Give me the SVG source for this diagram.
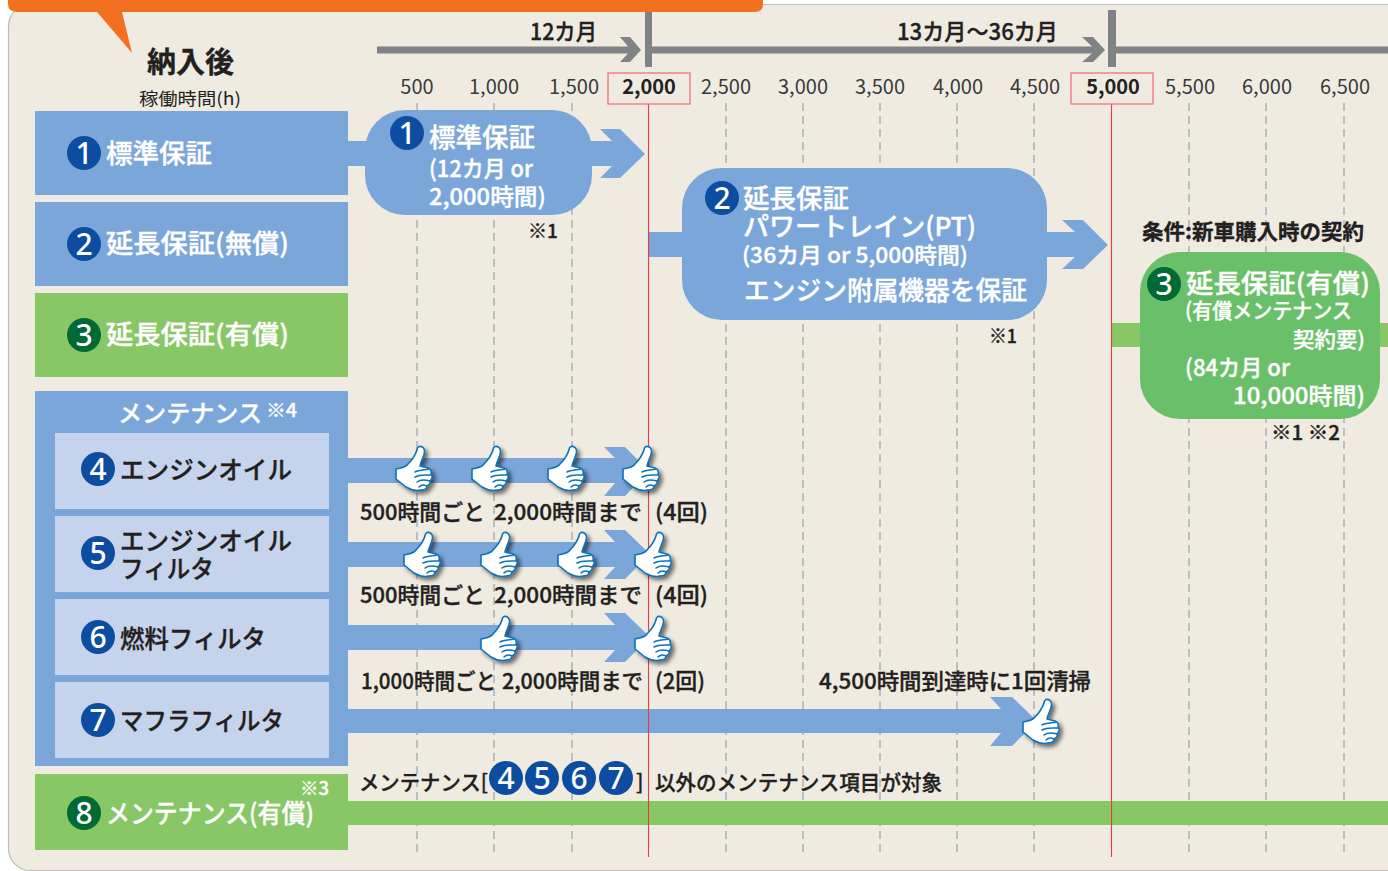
<svg xmlns="http://www.w3.org/2000/svg" xmlns:xlink="http://www.w3.org/1999/xlink" width="1388" height="871" viewBox="0 0 1388 871">
<style>
text{font-family:"Noto Sans CJK JP","Noto Sans",sans-serif;font-weight:500;fill:#231f20;stroke:#231f20;stroke-width:.35}
text.w{fill:#fff;stroke:#fff}
.b{font-weight:700}
text.n{fill:#fff;stroke:none;font-family:"Noto Sans","Liberation Sans",sans-serif;text-anchor:middle;font-weight:500}
.blue{fill:#7ba6d9}
.green{fill:#88c766}
.lt{fill:#c5d3ec}
.cb{fill:#0c4da2}
.cg{fill:#006934}
.gray{fill:#808285}
.dash{stroke:#bdbdc2;stroke-width:2;stroke-dasharray:8 5;fill:none}
.red{stroke:#ea3a42;stroke-width:1.1;fill:none}
.rbox{fill:none;stroke:#ee6a6f;stroke-width:1.2}
text.ax{font-size:20px;text-anchor:middle;fill:#3a3a3a;stroke:none;font-weight:400}
text.ax.b{fill:#222;font-weight:700}
text.thin{stroke:none;font-weight:400}
</style>
<defs>
<filter id="sh" x="-30%" y="-30%" width="170%" height="170%"><feDropShadow dx="3" dy="3" stdDeviation="2" flood-color="#000" flood-opacity=".55"/></filter>
<g id="thumb" filter="url(#sh)">
<path d="M24 .5C27 0 30 2 29.5 6C29 11 26 15 25 20L33 22C36 23 37 26 36 28C38 30 37 33 35 35C36 37 34 39 32 40C32 43 29 44 26 44C22 45 16 44 11 41L1 33V23C6 22 10 22 13 18C17 14 20 10 22 4C22 2 23 1 24 .5Z" fill="#fff" stroke="#0b72b9" stroke-width="1.6" stroke-linejoin="round"/>
<path d="M20 26C24 24 30 24 34 23M20 31C25 28 31 29 36 29M22 36C26 33 31 34 35 35M24 41C27 38 30 39 32 40" fill="none" stroke="#0b72b9" stroke-width="1.5" stroke-linecap="round"/>
</g>
</defs>

<rect x="8.5" y="4.5" width="1420" height="866" rx="22" fill="#f0ebe1" stroke="#bcbcbc" stroke-width="1.2"/>

<g id="header-tab">
<path d="M8 -8H763V4Q763 12 755 12H122L132 53L97 12H18Q8 12 8 4Z" fill="#f47021"/>
</g>

<g id="connectors">
<g class="dash">
<path d="M417 103V855M494 103V855M572 103V855M726 103V855M803 103V855M880 103V855M957 103V855M1034 103V855M1189 103V855M1266 103V855M1344 103V855"/>
</g>
<path class="gray" d="M377 46.5H628L620 37H630L641 50L630 62H620L628 53.5H377Z"/>
<path class="gray" d="M652 46.5H1092L1082 37H1093L1105 50L1093 62H1082L1092 53.5H652Z"/>
<path class="gray" d="M1116 46.5H1388V53.5H1116Z"/>
<rect class="gray" x="645" y="12" width="7" height="55"/>
<rect class="gray" x="1108" y="10" width="8" height="57"/>
<path class="blue" d="M348 141H612L600 129H620L645 154L620 178H600L612 166H348Z"/>
<path class="blue" d="M649 232H1075L1062 220H1083L1108 245L1083 269H1062L1075 257H649Z"/>
<rect class="green" x="1112" y="323" width="276" height="24"/>
<path class="blue" d="M348 458H615L604 447H625L649 471L625 496H604L615 483H348Z"/>
<path class="blue" d="M348 542H615L604 530H625L650 554L625 579H604L615 567H348Z"/>
<path class="blue" d="M348 625H615L604 613H625L650 637L625 662H604L615 650H348Z"/>
<path class="blue" d="M348 709H1001L990 697H1012L1037 721L1012 746H990L1001 733H348Z"/>
<rect class="green" x="348" y="801" width="1040" height="24"/>
<path class="red" d="M648.5 104V857M1111.5 104V857"/>
</g>

<g id="axis">
<text x="530" y="40" font-size="23" textLength="67" lengthAdjust="spacingAndGlyphs">12カ月</text>
<text x="897" y="40" font-size="23" textLength="161" lengthAdjust="spacingAndGlyphs">13カ月〜36カ月</text>
<text class="ax" x="417" y="94">500</text>
<text class="ax" x="494" y="94">1,000</text>
<text class="ax" x="574" y="94">1,500</text>
<rect class="rbox" x="608" y="73" width="82" height="31"/>
<text class="ax b" x="649" y="94">2,000</text>
<text class="ax" x="726" y="94">2,500</text>
<text class="ax" x="803" y="94">3,000</text>
<text class="ax" x="880" y="94">3,500</text>
<text class="ax" x="958" y="94">4,000</text>
<text class="ax" x="1035" y="94">4,500</text>
<rect class="rbox" x="1071" y="73" width="82" height="31"/>
<text class="ax b" x="1113" y="94">5,000</text>
<text class="ax" x="1190" y="94">5,500</text>
<text class="ax" x="1267" y="94">6,000</text>
<text class="ax" x="1345" y="94">6,500</text>
</g>

<g id="title">
<text class="b" x="147" y="73" font-size="29" textLength="87" lengthAdjust="spacingAndGlyphs">納入後</text>
<text class="thin" x="139" y="105" font-size="17" textLength="102" lengthAdjust="spacingAndGlyphs">稼働時間(h)</text>
</g>

<g id="label-1">
<rect class="blue" x="35" y="111" width="313" height="84"/>
<circle class="cb" cx="84" cy="153" r="17"/><text class="n" x="84" y="164" font-size="30">1</text>
<text class="w" x="106" y="163" font-size="26" textLength="106" lengthAdjust="spacingAndGlyphs">標準保証</text>
</g>
<g id="label-2">
<rect class="blue" x="35" y="202" width="313" height="84"/>
<circle class="cb" cx="84" cy="244" r="17"/><text class="n" x="84" y="255" font-size="30">2</text>
<text class="w" x="106" y="253" font-size="26" textLength="183" lengthAdjust="spacingAndGlyphs">延長保証(無償)</text>
</g>
<g id="label-3">
<rect class="green" x="35" y="293" width="313" height="84"/>
<circle class="cg" cx="84" cy="335" r="17"/><text class="n" x="84" y="346" font-size="30">3</text>
<text class="w" x="106" y="344" font-size="26" textLength="183" lengthAdjust="spacingAndGlyphs">延長保証(有償)</text>
</g>
<g id="label-maintenance">
<rect class="blue" x="35" y="391" width="313" height="375"/>
<text class="w" x="118" y="422" font-size="24" textLength="144" lengthAdjust="spacingAndGlyphs">メンテナンス</text>
<text class="w" x="266" y="417" font-size="18" textLength="31" lengthAdjust="spacingAndGlyphs">※4</text>
</g>
<g id="label-4">
<rect class="lt" x="55" y="433" width="274" height="76"/>
<circle class="cb" cx="98" cy="469" r="17"/><text class="n" x="98" y="480" font-size="30">4</text>
<text x="120" y="479" font-size="25" textLength="172" lengthAdjust="spacingAndGlyphs">エンジンオイル</text>
</g>
<g id="label-5">
<rect class="lt" x="55" y="516" width="274" height="76"/>
<circle class="cb" cx="98" cy="553" r="17"/><text class="n" x="98" y="564" font-size="30">5</text>
<text x="120" y="550" font-size="25" textLength="172" lengthAdjust="spacingAndGlyphs">エンジンオイル</text>
<text x="120" y="578" font-size="25" textLength="94" lengthAdjust="spacingAndGlyphs">フィルタ</text>
</g>
<g id="label-6">
<rect class="lt" x="55" y="599" width="274" height="76"/>
<circle class="cb" cx="98" cy="637" r="17"/><text class="n" x="98" y="648" font-size="30">6</text>
<text x="120" y="648" font-size="25" textLength="146" lengthAdjust="spacingAndGlyphs">燃料フィルタ</text>
</g>
<g id="label-7">
<rect class="lt" x="55" y="682" width="274" height="76"/>
<circle class="cb" cx="98" cy="720" r="17"/><text class="n" x="98" y="731" font-size="30">7</text>
<text x="120" y="730" font-size="25" textLength="164" lengthAdjust="spacingAndGlyphs">マフラフィルタ</text>
</g>
<g id="label-8">
<rect class="green" x="35" y="774" width="313" height="76"/>
<circle class="cg" cx="84" cy="813" r="17"/><text class="n" x="84" y="824" font-size="30">8</text>
<text class="w" x="106" y="823" font-size="26" textLength="208" lengthAdjust="spacingAndGlyphs">メンテナンス(有償)</text>
<text class="w" x="300" y="795" font-size="18" textLength="29" lengthAdjust="spacingAndGlyphs">※3</text>
</g>

<g id="bubble-1">
<rect class="blue" x="365" y="110" width="227" height="105" rx="40"/>
<circle class="cb" cx="407" cy="133" r="17"/><text class="n" x="407" y="144" font-size="30">1</text>
<text class="w" x="429" y="147" font-size="26" textLength="106" lengthAdjust="spacingAndGlyphs">標準保証</text>
<text class="w" x="429" y="177" font-size="23" textLength="104" lengthAdjust="spacingAndGlyphs">(12カ月 or</text>
<text class="w" x="429" y="205" font-size="23" textLength="117" lengthAdjust="spacingAndGlyphs">2,000時間)</text>
<text x="528" y="238" font-size="19" textLength="30" lengthAdjust="spacingAndGlyphs">※1</text>
</g>

<g id="bubble-2">
<rect class="blue" x="682" y="168" width="365" height="152" rx="40"/>
<circle class="cb" cx="722" cy="198" r="17"/><text class="n" x="722" y="209" font-size="30">2</text>
<text class="w" x="743" y="208" font-size="26" textLength="106" lengthAdjust="spacingAndGlyphs">延長保証</text>
<text class="w" x="743" y="236" font-size="26" textLength="233" lengthAdjust="spacingAndGlyphs">パワートレイン(PT)</text>
<text class="w" x="742" y="263" font-size="22" textLength="226" lengthAdjust="spacingAndGlyphs">(36カ月 or 5,000時間)</text>
<text class="w" x="744" y="300" font-size="26" textLength="283" lengthAdjust="spacingAndGlyphs">エンジン附属機器を保証</text>
<text x="989" y="343" font-size="19" textLength="28" lengthAdjust="spacingAndGlyphs">※1</text>
</g>

<g id="bubble-3">
<text class="b" x="1142" y="239" font-size="21" textLength="222" lengthAdjust="spacingAndGlyphs">条件:新車購入時の契約</text>
<rect x="1140" y="252" width="240" height="167" rx="40" fill="#6abf69"/>
<circle class="cg" cx="1164" cy="284" r="17"/><text class="n" x="1164" y="295" font-size="30">3</text>
<text class="w" x="1186" y="293" font-size="26" textLength="184" lengthAdjust="spacingAndGlyphs">延長保証(有償)</text>
<text class="w" x="1185" y="318" font-size="21" textLength="167" lengthAdjust="spacingAndGlyphs">(有償メンテナンス</text>
<text class="w" x="1293" y="347" font-size="21" textLength="72" lengthAdjust="spacingAndGlyphs">契約要)</text>
<text class="w" x="1185" y="376" font-size="23" textLength="105" lengthAdjust="spacingAndGlyphs">(84カ月 or</text>
<text class="w" x="1233" y="404" font-size="23" textLength="132" lengthAdjust="spacingAndGlyphs">10,000時間)</text>
<text x="1271" y="440" font-size="20" textLength="69" lengthAdjust="spacingAndGlyphs">※1 ※2</text>
</g>

<g id="captions">
<text x="360" y="520" font-size="22" textLength="125" lengthAdjust="spacingAndGlyphs">500時間ごと</text>
<text x="494" y="520" font-size="22" textLength="148" lengthAdjust="spacingAndGlyphs">2,000時間まで</text>
<text x="655" y="520" font-size="22" textLength="53" lengthAdjust="spacingAndGlyphs">(4回)</text>
<text x="360" y="603" font-size="22" textLength="125" lengthAdjust="spacingAndGlyphs">500時間ごと</text>
<text x="494" y="603" font-size="22" textLength="148" lengthAdjust="spacingAndGlyphs">2,000時間まで</text>
<text x="655" y="603" font-size="22" textLength="53" lengthAdjust="spacingAndGlyphs">(4回)</text>
<text x="361" y="689" font-size="22" textLength="135" lengthAdjust="spacingAndGlyphs">1,000時間ごと</text>
<text x="502" y="689" font-size="22" textLength="141" lengthAdjust="spacingAndGlyphs">2,000時間まで</text>
<text x="655" y="689" font-size="22" textLength="50" lengthAdjust="spacingAndGlyphs">(2回)</text>
<text x="819" y="689" font-size="22" textLength="272" lengthAdjust="spacingAndGlyphs">4,500時間到達時に1回清掃</text>
<text x="359" y="790" font-size="21" textLength="129" lengthAdjust="spacingAndGlyphs">メンテナンス[</text>
<circle class="cb" cx="506" cy="778" r="17"/><text class="n" x="506" y="789" font-size="30">4</text>
<circle class="cb" cx="542" cy="778" r="17"/><text class="n" x="542" y="789" font-size="30">5</text>
<circle class="cb" cx="579" cy="778" r="17"/><text class="n" x="579" y="789" font-size="30">6</text>
<circle class="cb" cx="616" cy="778" r="17"/><text class="n" x="616" y="789" font-size="30">7</text>
<text x="636" y="790" font-size="21">]</text>
<text x="655" y="790" font-size="21" textLength="287" lengthAdjust="spacingAndGlyphs">以外のメンテナンス項目が対象</text>
</g>

<g id="thumbs">
<use href="#thumb" x="395" y="446"/><use href="#thumb" x="471" y="446"/><use href="#thumb" x="547" y="446"/><use href="#thumb" x="622" y="446"/>
<use href="#thumb" x="403" y="532"/><use href="#thumb" x="480" y="532"/><use href="#thumb" x="557" y="532"/><use href="#thumb" x="634" y="532"/>
<use href="#thumb" x="480" y="616"/><use href="#thumb" x="634" y="616"/>
<use href="#thumb" x="1022" y="699"/>
</g>
</svg>
